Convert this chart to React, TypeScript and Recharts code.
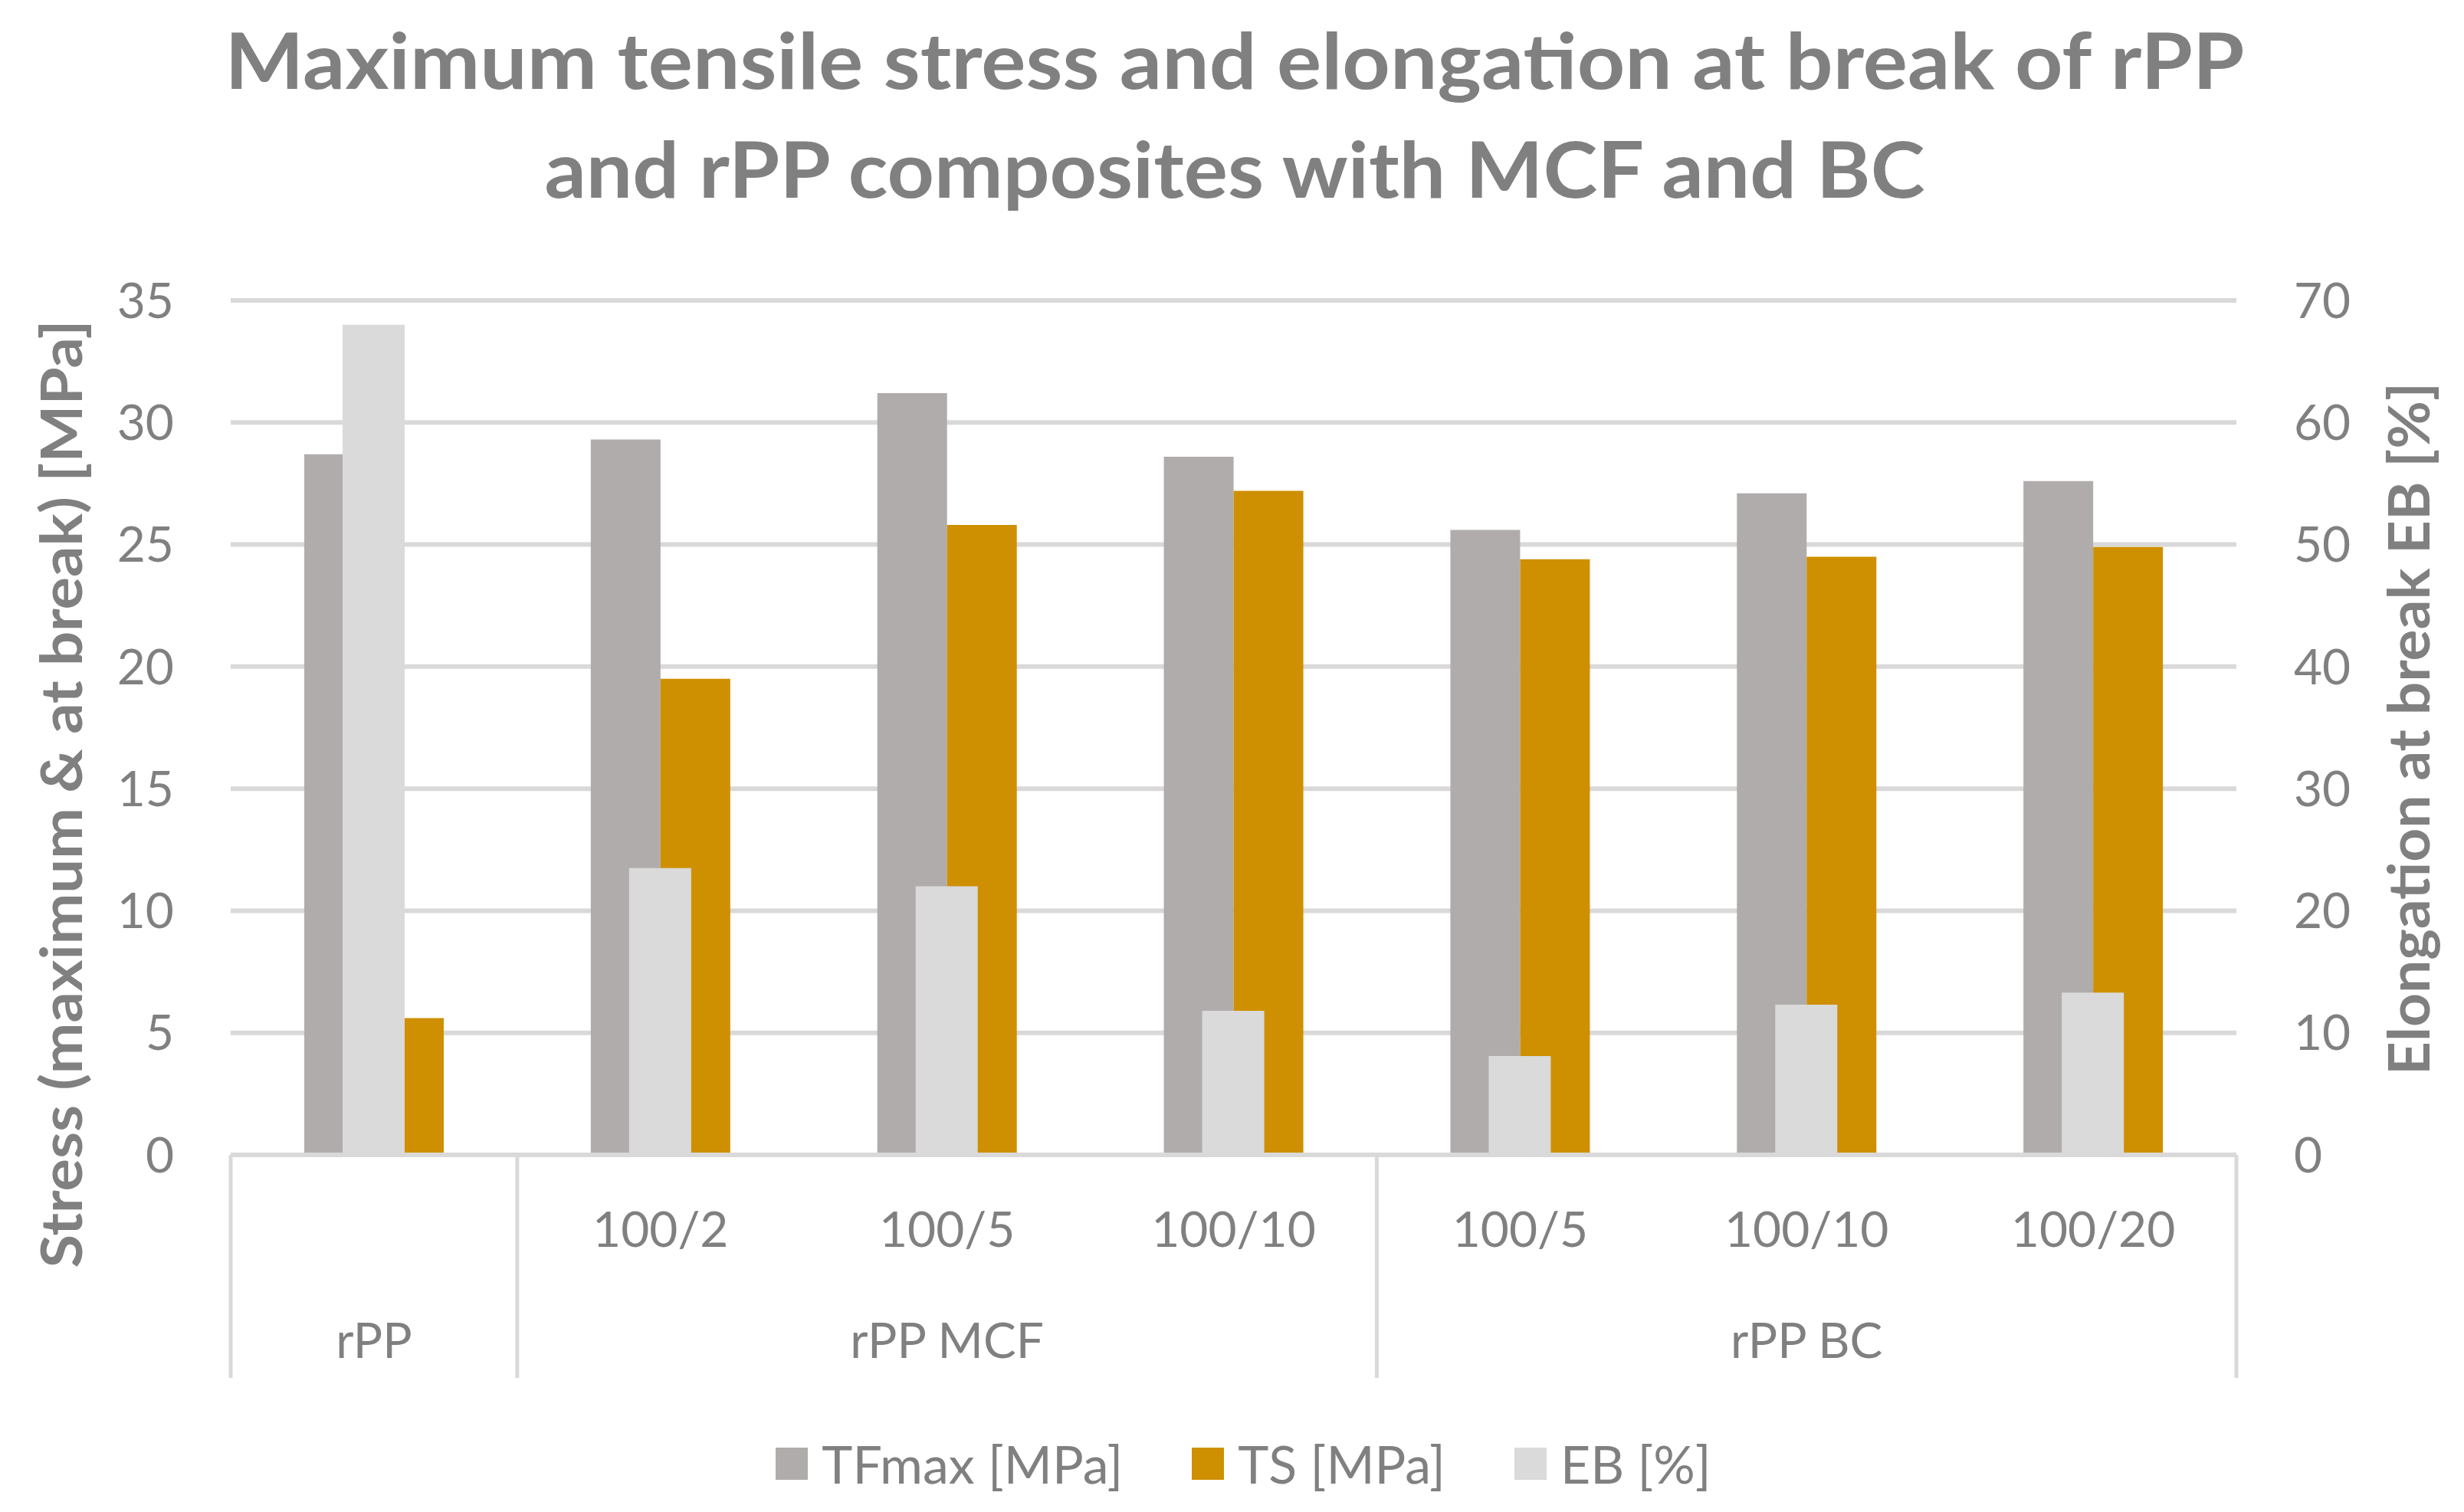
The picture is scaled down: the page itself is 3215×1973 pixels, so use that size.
import React from 'react';
import { BarChart, Bar, XAxis, YAxis, CartesianGrid, Legend } from 'recharts';

// ---- data ----
const CATEGORIES = ['', '100/2', '100/5', '100/10', '100/5', '100/10', '100/20'];
const GROUPS = ['rPP', 'rPP MCF', 'rPP MCF', 'rPP MCF', 'rPP BC', 'rPP BC', 'rPP BC'];
const TF_MAX = [28.7, 29.3, 31.2, 28.6, 25.6, 27.1, 27.6];
const TS = [5.6, 19.5, 25.8, 27.2, 24.4, 24.5, 24.9];
const EB = [68.0, 23.5, 22.0, 11.8, 8.1, 12.3, 13.3];
const STRESS_TICKS = [0, 5, 10, 15, 20, 25, 30, 35];
const EB_TICKS = [0, 10, 20, 30, 40, 50, 60, 70];
const SERIES_NAMES = ['TFmax [MPa]', 'TS [MPa]', 'EB [%]'];
const TITLE_LINES = ['Maximum tensile stress and elongation at break of rPP', 'and rPP composites with MCF and BC'];
const Y_LEFT_TITLE = 'Stress (maximum & at break) [MPa]';
const Y_RIGHT_TITLE = 'Elongation at break EB [%]';

// ---- style ----
const W = 3215;
const H = 1973;
const TEXT = '#808080';
const GRID = '#D9D9D9';
const SERIES_COLORS = ['#B0ACAB', '#CE9000', '#DADADA'];
const FONT = 'Lato, "Open Sans", sans-serif';

const data = CATEGORIES.map((c, i) => ({
  id: i,
  sub: c,
  group: GROUPS[i],
  tf: TF_MAX[i],
  ts: TS[i],
  eb: EB[i],
}));

const N = CATEGORIES.length;

const CatTick = (props: any) => {
  const { x, y, payload } = props;
  const i = Number(payload?.value ?? props.index);
  const half = payload?.offset ? payload.offset : 2617 / N / 2;
  const out: any[] = [];
  out.push(
    <text key="sub" x={x} y={y + 120} textAnchor="middle" fill={TEXT} fontSize={64} fontFamily={FONT}>
      {CATEGORIES[i]}
    </text>
  );
  const first = i === 0 || GROUPS[i] !== GROUPS[i - 1];
  if (first) {
    let e = i;
    while (e + 1 < N && GROUPS[e + 1] === GROUPS[i]) e++;
    const cx = x + (e - i) * half;
    out.push(<line key="sep" x1={x - half} x2={x - half} y1={y} y2={y + 291} stroke={GRID} strokeWidth={5} />);
    out.push(
      <text key="grp" x={cx} y={y + 265} textAnchor="middle" fill={TEXT} fontSize={64} fontFamily={FONT}>
        {GROUPS[i]}
      </text>
    );
  }
  if (i === N - 1) {
    out.push(<line key="end" x1={x + half} x2={x + half} y1={y} y2={y + 291} stroke={GRID} strokeWidth={5} />);
  }
  return <g>{out}</g>;
};

const LegendContent = () => (
  <div
    style={{
      display: 'flex',
      justifyContent: 'center',
      alignItems: 'center',
      paddingLeft: 30,
      fontFamily: FONT,
      fontSize: 68,
      color: TEXT,
      height: 64,
    }}
  >
    {SERIES_NAMES.map((name, i) => (
      <div key={name} style={{ display: 'flex', alignItems: 'center', marginLeft: i ? 90 : 0 }}>
        <div style={{ width: 42, height: 42, background: SERIES_COLORS[i], marginRight: 18 }} />
        <span style={{ lineHeight: '64px', whiteSpace: 'nowrap' }}>{name}</span>
      </div>
    ))}
  </div>
);

export default function App() {
  return (
    <div style={{ position: 'absolute', left: 0, top: 0, width: W, height: H, background: '#fff', fontFamily: FONT }}>
      <BarChart
        width={W}
        height={H}
        data={data}
        margin={{ top: 392, right: 0, bottom: 166, left: 0 }}
        barGap={0}
      >
        <CartesianGrid xAxisId="main" yAxisId="left" vertical={false} stroke={GRID} strokeWidth={6} />
        <XAxis xAxisId="eb" dataKey="id" type="category" hide height={0} />
        <XAxis
          xAxisId="main"
          dataKey="id"
          type="category"
          interval={0}
          height={300}
          tickLine={false}
          tickSize={0}
          tickMargin={0}
          axisLine={{ stroke: GRID, strokeWidth: 6 }}
          tick={<CatTick />}
        />
        <YAxis
          yAxisId="left"
          domain={[0, 35]}
          ticks={STRESS_TICKS}
          width={301}
          axisLine={false}
          tickLine={false}
          tickSize={0}
          tickMargin={74}
          tick={{ fill: TEXT, fontSize: 64, fontFamily: FONT }}
        />
        <YAxis
          yAxisId="right"
          orientation="right"
          domain={[0, 70]}
          ticks={EB_TICKS}
          width={297}
          axisLine={false}
          tickLine={false}
          tickSize={0}
          tickMargin={75}
          tick={{ fill: TEXT, fontSize: 64, fontFamily: FONT }}
        />
        <Bar xAxisId="main" yAxisId="left" dataKey="tf" name={SERIES_NAMES[0]} fill={SERIES_COLORS[0]} barSize={91} isAnimationActive={false} />
        <Bar xAxisId="main" yAxisId="left" dataKey="ts" name={SERIES_NAMES[1]} fill={SERIES_COLORS[1]} barSize={91} isAnimationActive={false} />
        <Bar xAxisId="eb" yAxisId="right" dataKey="eb" name={SERIES_NAMES[2]} fill={SERIES_COLORS[2]} barSize={81} isAnimationActive={false} />
        <Legend
          verticalAlign="middle"
          align="center"
          layout="horizontal"
          wrapperStyle={{ top: 1878, left: 0, width: W }}
          content={<LegendContent />}
        />
      </BarChart>
      <svg
        width={W}
        height={H}
        style={{ position: 'absolute', left: 0, top: 0, pointerEvents: 'none' }}
      >
        <text x={1611} y={116} textAnchor="middle" fill={TEXT} fontSize={101} fontWeight={700} fontFamily={FONT} textLength={2635} lengthAdjust="spacingAndGlyphs">
          {TITLE_LINES[0]}
        </text>
        <text x={1611} y={258} textAnchor="middle" fill={TEXT} fontSize={101} fontWeight={700} fontFamily={FONT} textLength={1801} lengthAdjust="spacingAndGlyphs">
          {TITLE_LINES[1]}
        </text>
        <text x={107} y={1036} transform="rotate(-90 107 1036)" textAnchor="middle" fill={TEXT} fontSize={75} fontWeight={700} fontFamily={FONT} textLength={1237} lengthAdjust="spacingAndGlyphs">
          {Y_LEFT_TITLE}
        </text>
        <text x={3170} y={951} transform="rotate(-90 3170 951)" textAnchor="middle" fill={TEXT} fontSize={75} fontWeight={700} fontFamily={FONT} textLength={904} lengthAdjust="spacingAndGlyphs">
          {Y_RIGHT_TITLE}
        </text>
      </svg>
    </div>
  );
}
